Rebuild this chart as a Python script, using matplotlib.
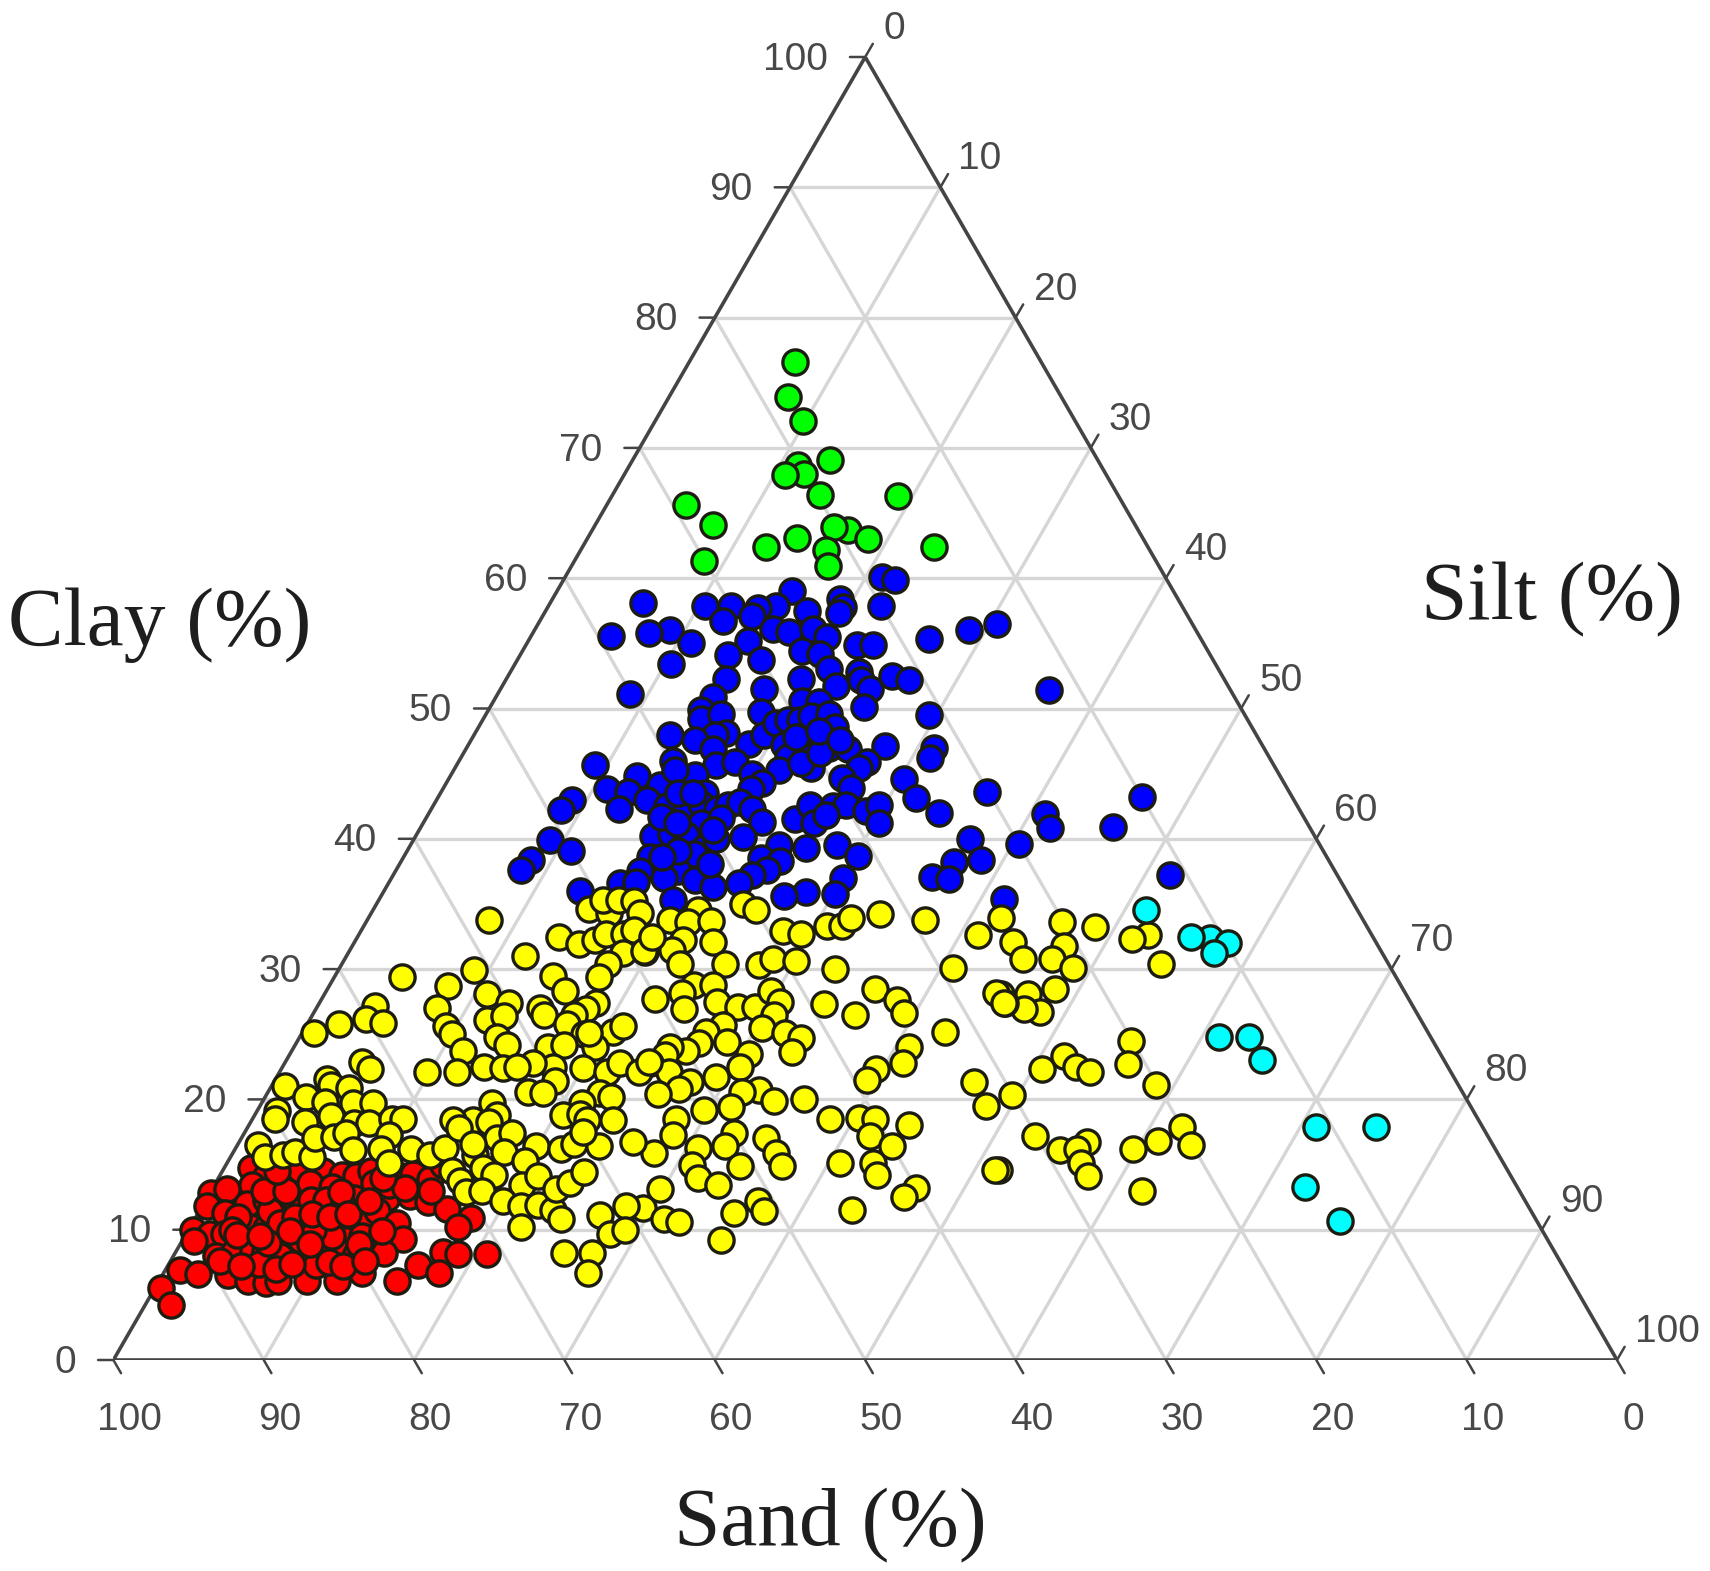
import numpy as np
import matplotlib
matplotlib.use('Agg')
import matplotlib.pyplot as plt

# every sample is (clay %, silt %), sand is what remains
green = [(76.6,7.0),(73.9,7.9),(72.1,9.8),(69.1,13.1),(68.7,11.2),(68.0,11.9),(67.9,10.7),(66.4,13.8),
         (66.3,19.0),(65.6,5.3),(64.1,7.8),(63.7,17.0),(63.9,16.0),(63.1,13.9),(63.0,18.7),(62.4,12.2),
         (62.4,23.4),(62.2,16.3),(61.3,8.6),(60.9,17.1)]

cyan = [(34.5,51.4),(32.4,56.7),(32.0,58.1),(32.5,55.4),(31.2,57.6),(24.8,61.1),(24.8,63.1),(23.0,64.9),
        (17.9,71.0),(17.9,75.0),(13.3,72.6),(10.7,76.2)]

blue = [(60.1,21.1),(59.9,22.0),(59.0,15.6),(58.4,19.1),(57.9,22.1),(58.1,6.2),(57.9,10.4),(57.9,12.1),
        (57.9,15.1),(57.7,14.0),(57.8,19.6),(57.3,19.6),(57.5,17.4),(57.1,13.9),(56.7,12.2),(56.1,15.8),
        (55.9,17.0),(56.1,18.5),(56.0,9.0),(55.8,7.7),(55.6,5.3),(55.3,26.6),(56.0,28.9),(56.5,30.5),
        (55.0,10.9),(55.2,14.6),(54.9,22.0),(54.9,23.1),(55.5,19.7),(54.4,18.6),(54.1,13.8),(54.2,19.9),
        (53.7,16.2),(53.4,10.4),(53.0,21.1),(52.8,23.2),(52.5,25.5),(52.2,26.8),(52.3,14.6),(52.3,19.6),
        (52.2,23.6),(51.5,17.5),(51.7,22.2),(51.5,24.6),(51.1,8.8),(51.4,36.5),(50.9,14.4),(50.6,20.5),
        (50.5,21.7),(50.1,24.9),(49.9,14.1),(49.7,18.2),(49.5,29.5),(49.2,14.5),(49.6,15.6),(48.1,16.7),
        (48.0,16.0),(47.6,14.9),(48.0,13.0),(46.9,16.4),(47.3,18.6),(48.0,19.3),(48.9,19.6),(49.1,20.3),
        (49.1,21.1),(49.4,21.7),(49.6,22.8),(48.6,23.7),(47.6,22.6),(47.0,24.1),(46.9,25.4),(47.2,21.0),
        (47.1,22.0),(46.3,22.8),(46.3,21.7),(47.1,27.8),(47.0,31.1),(46.2,31.2),(45.9,27.2),(45.4,26.9),
        (44.7,26.1),(45.3,21.6),(45.4,23.7),(45.8,22.8),(45.7,17.2),(45.9,18.4),(46.0,14.2),(45.0,20.0),
        (43.9,27.1),(44.6,30.3),(43.1,31.8),(42.0,33.9),(43.6,36.3),(45.7,9.2),(44.8,12.4),(43.8,10.9),
        (43.6,12.4),(44.1,14.3),(44.4,15.7),(44.9,16.2),(45.3,14.7),(44.3,21.0),(43.8,20.5),(43.5,17.6),
        (42.3,12.5),(43.0,9.0),(42.2,8.7),(43.0,14.0),(42.5,15.6),(42.1,17.0),(42.7,17.7),(42.3,19.0),
        (42.6,19.6),(42.8,20.3),(42.3,21.3),(41.3,22.5),(41.2,18.5),(41.6,19.6),(41.5,24.6),(42.6,25.0),
        (41.2,26.0),(42.5,26.6),(42.6,27.4),(41.8,26.5),(42.1,29.0),(42.6,29.6),(41.2,30.3),(41.9,41.0),
        (40.8,41.9),(40.1,21.8),(40.2,15.8),(40.4,16.9),(40.3,17.9),(39.3,19.6),(40.0,20.1),(38.8,19.2),
        (39.9,9.1),(39.1,10.9),(38.4,8.6),(37.6,8.3),(38.6,16.4),(39.5,24.5),(39.3,26.4),(39.5,28.4),
        (38.7,30.2),(38.5,23.8),(38.3,25.2),(37.6,24.7),(37.2,23.9),(36.6,23.3),(37.5,16.3),(37.5,18.8),
        (37.0,18.1),(36.8,20.3),(36.3,21.7),(36.6,15.4),(36.7,16.4),(36.0,13.0),(38.1,20.6),(40.0,37.0),
        (39.6,40.4),(38.2,36.8),(38.4,38.5),(37.1,35.9),(36.9,37.1),(37.0,30.0),(35.8,30.1),(35.9,28.1),
        (35.6,26.8),(35.3,19.6),(35.4,41.5),(43.5,15.8),(43.5,16.8),(41.7,15.6),(41.2,16.9),(40.7,19.5),
        (39.1,18.0),(38.6,17.2),(46.6,23.7),(47.8,21.5),(48.3,22.8),(47.6,24.5),(43.2,46.8),(40.9,46.0),
        (37.2,51.7)]

yellow = [(33.6,46.3),(33.2,48.7),(32.6,52.5),(32.3,51.6),(32.1,43.8),(31.8,47.3),(30.8,47.0),(30.8,45.1),
          (30.1,48.8),(30.4,54.5),(28.5,48.4),(28.1,46.8),(28.1,45.0),(26.7,48.3),(26.9,47.1),(27.4,45.6),
          (24.5,55.4),(22.7,56.1),(23.3,51.6),(22.3,50.6),(22.5,52.8),(22.1,53.9),(21.1,58.8),(20.3,49.6),
          (17.9,62.1),(16.8,61.1),(16.2,59.7),(16.5,63.4),(17.2,52.7),(16.7,56.4),(16.1,54.9),(16.2,56.0),
          (15.1,56.8),(14.1,57.8),(13.0,61.9),(14.6,51.6),
          (35.0,24.4),(34.5,25.5),(34.5,21.6),(33.8,20.1),(33.6,21.4),(33.7,22.9),(32.9,28.1),(32.7,29.4),
          (33.3,30.8),(33.3,31.8),(33.9,32.1),(34.2,33.9),(33.8,37.1),(33.9,42.1),(32.6,41.2),(32.1,23.8),
          (32.2,19.7),(32.2,21.8),(31.3,19.7),(31.5,21.4),(30.4,22.5),(30.4,25.5),(30.3,27.8),(30.8,28.5),
          (30.6,30.1),(30.0,33.0),(30.1,40.8),(28.5,36.4),(27.6,38.3),(26.6,39.3),(27.3,33.6),(26.5,36.1),
          (28.2,44.6),(27.4,45.5),(28.8,24.2),(28.2,23.7),(28.8,25.5),(27.7,22.2),(26.9,24.5),(27.5,26.4),
          (27.1,28.0),(27.1,29.1),(28.3,29.6),(27.5,30.6),(26.5,30.7),(25.5,30.4),(25.7,27.7),(25.2,26.8),
          (24.4,28.6),(25.1,32.1),(24.7,33.4),(23.6,33.3),(23.5,30.5),(24.3,26.8),(23.7,26.2),(24.0,25.0),
          (23.4,25.0),(22.8,24.3),(22.1,25.9),(22.5,30.4),(25.2,42.7),(24.0,40.9),(22.8,41.1),(22.3,39.6),
          (21.5,39.4),(21.7,29.2),(21.3,27.7),(20.8,27.2),(20.4,26.0),(20.7,32.6),(20.6,31.5),(19.9,34.0),
          (20.0,35.9),(19.4,31.4),(19.2,29.7),(21.3,46.6),(19.5,48.3),(18.5,28.2),(18.5,38.4),(18.6,40.3),
          (18.5,41.4),(18.0,43.9),(17.3,28.6),(17.4,32.6),(17.2,41.7),(17.0,34.9),(16.4,32.5),(16.4,43.6),
          (16.3,30.7),(15.9,28.0),(15.9,36.1),(15.1,40.8),(15.1,43.0),(15.0,31.0),(14.9,34.2),(14.9,37.0),
          (14.2,43.7),(14.0,31.9),(13.4,33.5),(14.6,51.3),(13.2,46.8),(12.5,46.3),(13.1,29.8),(12.2,36.8),
          (11.4,37.6),(11.3,35.6),(11.5,43.4),(11.7,29.4),(10.8,31.2),(10.6,32.3),(9.2,35.8),
          (33.8,8.1),(34.6,14.3),(34.3,15.8),(35.3,14.9),(35.3,16.0),(35.2,17.0),(34.3,17.9),(32.5,13.4),
          (31.9,15.0),(32.2,15.9),(32.7,16.4),(32.7,17.6),(33.0,18.1),(31.2,18.3),(31.4,19.6),(31.0,11.9),
          (30.4,17.7),(29.4,17.6),(29.5,14.5),(28.3,15.9),(29.9,9.0),(29.4,4.5),(28.7,7.9),(27.0,8.0),
          (28.1,10.8),(27.4,12.6),(27.2,3.8),(26.2,3.7),(25.9,5.0),(25.8,2.1),(25.1,0.8),(26.1,11.8),
          (26.4,12.8),(25.6,9.3),(25.0,10.0),(24.8,13.1),(24.2,14.1),(23.7,11.4),(27.0,14.9),(26.5,15.4),
          (27.4,18.4),(26.9,18.0),(26.5,17.4),(25.8,17.3),(25.2,20.6),(25.6,21.1),(25.0,18.8),(24.0,20.0),
          (24.0,16.9),(24.2,17.9),(25.1,19.1),(22.5,18.0),(22.8,16.5),(22.4,20.0),(22.1,21.8),(22.8,22.3),
          (22.1,23.9),(22.5,13.4),(22.4,14.7),(22.5,15.6),(22.1,11.8),(22.1,9.8),(22.9,5.1),(22.3,5.9),
          (21.4,18.7),(20.6,17.3),(20.5,18.3),(20.5,22.1),(20.2,23.0),(19.7,21.3),(21.0,0.9),(21.6,3.4),
          (21.1,3.9),(20.9,5.2),(20.2,2.7),(19.8,4.2),(19.7,6.1),(19.7,7.4),(19.1,1.3),(18.5,1.5),
          (18.3,3.6),(18.7,5.1),(18.2,6.9),(18.2,7.9),(18.5,9.3),(18.5,10.0),(16.5,1.4),(15.6,2.3),
          (15.7,3.4),(16.0,4.1),(15.6,5.4),(17.0,4.9),(17.1,6.1),(17.4,6.8),(16.1,7.9),(17.3,9.7),
          (16.2,9.7),(15.1,10.8),(16.2,11.7),(15.7,13.2),(16.3,13.9),(19.7,15.3),(18.4,14.7),(18.8,16.1),
          (18.4,13.4),(17.8,14.1),(18.3,15.8),(17.0,17.0),(17.4,17.8),(16.0,18.0),(15.7,16.2),(16.6,15.6),
          (14.7,17.2),(14.2,18.2),(14.5,15.3),(13.7,16.2),(12.9,17.0),(13.0,18.0),(16.4,19.9),(16.2,21.7),
          (16.6,22.3),(16.4,24.1),(15.3,19.7),(18.8,20.5),(18.9,21.6),(18.4,22.3),(17.5,22.5),(18.4,24.0),
          (16.7,26.2),(13.4,20.5),(14.1,21.2),(12.2,19.8),(11.8,21.2),(11.9,22.3),(11.5,23.5),(10.8,24.4),
          (13.1,22.9),(13.6,23.6),(14.4,24.1),(10.2,22.0),(11.1,26.8),(11.8,28.2),(9.7,28.2),(10.0,29.0),
          (8.2,25.9),(8.2,27.7),(6.7,28.2),(32.5,19.6),(22.9,24.2)]

red = [(14.7,1.8),(14.1,3.1),(13.8,4.4),(14.6,5.1),(14.5,6.7),(14.2,8.1),(14.1,9.1),(14.5,9.9),(14.1,12.1),
       (14.3,12.8),(13.9,14.1),(15.0,14.4),(12.8,0.1),(13.1,1.0),(13.4,2.5),(13.6,6.3),(13.3,7.9),(12.4,9.8),
       (11.8,0.3),(12.0,2.9),(11.3,1.8),(12.3,4.0),(11.9,5.4),(11.8,6.3),(12.3,7.0),(12.3,8.0),(11.8,9.4),
       (12.4,12.0),(12.6,13.4),(12.1,14.9),(11.6,16.4),(10.9,18.3),(10.2,17.8),(10.0,0.3),(9.7,1.6),(9.7,2.5),
       (10.2,4.0),(10.1,5.1),(11.4,4.7),(10.5,5.8),(10.8,8.1),(10.4,9.8),(10.8,10.8),(10.5,11.8),(11.4,11.8),
       (10.5,13.6),(9.3,14.6),(9.1,0.8),(9.0,4.3),(9.3,7.0),(9.2,7.9),(9.2,10.9),(9.5,11.8),(8.0,2.8),
       (8.3,3.9),(8.4,5.1),(8.3,5.9),(8.0,7.1),(8.4,9.5),(8.3,10.8),(8.1,12.1),(8.2,13.9),(8.3,17.8),
       (8.1,18.9),(8.1,20.8),(6.9,1.0),(6.6,2.3),(6.5,4.4),(6.1,5.9),(5.9,7.2),(6.1,7.9),(7.4,6.0),(6.1,9.8),
       (7.3,9.8),(6.1,11.8),(6.7,13.2),(6.1,15.8),(7.3,16.6),(6.7,18.3),(5.5,0.4),(4.2,1.7),(9.0,5.8),
       (9.5,9.8),(10.0,8.3),(13.0,3.5),(13.0,5.0),(12.9,8.7),(13.6,10.5),(13.4,11.6),(13.2,12.8),(11.0,2.8),
       (11.0,6.6),(11.2,7.6),(11.0,8.9),(11.2,10.0),(10.0,2.9),(9.6,3.4),(9.9,6.8),(9.5,5.0),(8.9,8.6),
       (8.9,11.9),(7.6,3.3),(7.2,4.9),(7.0,7.3),(7.4,8.2),(7.5,10.6),(7.2,11.7),(7.6,12.9),(14.0,10.9),
       (13.0,14.6),(12.2,10.9),(9.9,12.9),(14.5,3.6)]

ticks = list(range(0, 101, 10))

# reference triangle corners in pixels
LEFT, RIGHT, BASE, TOP = 113.4, 1617.0, 1360.0, 57.0
WIDTH, HEIGHT = 1710, 1571

TICK_COLOR = '#484848'
FRAME_COLOR = '#444444'
GRID_COLOR = '#d6d6d6'


def to_xy(clay, silt):
    """Ternary values to the x, y of the equilateral plot"""
    clay = np.asarray(clay, dtype=float)
    silt = np.asarray(silt, dtype=float)
    return silt + clay / 2, clay


def draw_grid(ax):
    for v in ticks[1:-1]:
        for a, b in [((v, 0), (v, 100 - v)),
                     ((0, v), (100 - v, v)),
                     ((0, 100 - v), (100 - v, 0))]:
            x, y = to_xy([a[0], b[0]], [a[1], b[1]])
            ax.plot(x, y, color=GRID_COLOR, lw=2.4, zorder=1, solid_capstyle='butt')


def draw_frame(ax):
    x, y = to_xy([0, 100, 0, 0], [0, 0, 100, 0])
    ax.plot(x, y, color=FRAME_COLOR, lw=2.6, zorder=2, solid_joinstyle='miter')


def draw_ticks(ax):
    size = 28
    style = dict(fontsize=size, color=TICK_COLOR, family='Liberation Sans',
                 textcoords='offset points', annotation_clip=False)
    arrow = dict(arrowstyle='-', color=FRAME_COLOR, lw=1.8, shrinkA=0, shrinkB=0)
    for v in ticks:
        # clay on the left side
        x, y = to_xy(v, 0)
        ax.annotate('', (x, y), xytext=(-11, 0), arrowprops=arrow,
                    annotation_clip=False, textcoords='offset points')
        ax.annotate(str(v), (x, y), xytext=(-27, 1), ha='right', va='center_baseline', **style)

        # silt on the right side
        x, y = to_xy(100 - v, v)
        ax.annotate('', (x, y), xytext=(5.5, 9.5), arrowprops=arrow,
                    annotation_clip=False, textcoords='offset points')
        ax.annotate(str(v), (x, y), xytext=(13, 23), ha='left', va='center_baseline', **style)

        # sand along the base
        x, y = to_xy(0, 100 - v)
        ax.annotate('', (x, y), xytext=(5.5, -9.5), arrowprops=arrow,
                    annotation_clip=False, textcoords='offset points')
        ax.annotate(str(v), (x, y), xytext=(11.5, -40.5), ha='center', va='center_baseline', **style)


def main():
    fig = plt.figure(figsize=(WIDTH / 100, HEIGHT / 100), dpi=100)
    ax = fig.add_axes([LEFT / WIDTH, (HEIGHT - BASE) / HEIGHT,
                       (RIGHT - LEFT) / WIDTH, (BASE - TOP) / HEIGHT])
    ax.set_xlim(0, 100)
    ax.set_ylim(0, 100)
    ax.axis('off')

    draw_grid(ax)
    draw_frame(ax)
    draw_ticks(ax)

    groups = [(red, '#ff0000', 3), (blue, '#0000ff', 4), (yellow, '#ffff00', 5),
              (green, '#00ff00', 6), (cyan, '#00ffff', 7)]
    for points, color, z in groups:
        clay, silt = zip(*points)
        x, y = to_xy(clay, silt)
        ax.scatter(x, y, s=330, c=color, edgecolors='#1c1c10', linewidths=2.4,
                   zorder=z, clip_on=False)

    title = dict(family='Liberation Serif', fontsize=60, color='#1e1e1e',
                 ha='center', va='center')
    fig.text(160 / WIDTH, 1 - 625 / HEIGHT, 'Clay (%)', **title)
    fig.text(1552 / WIDTH, 1 - 600 / HEIGHT, 'Silt (%)', **title)
    fig.text(830 / WIDTH, 1 - 1526 / HEIGHT, 'Sand (%)', **title)

    fig.savefig('out.png', dpi=100, facecolor='white')


if __name__ == '__main__':
    main()
